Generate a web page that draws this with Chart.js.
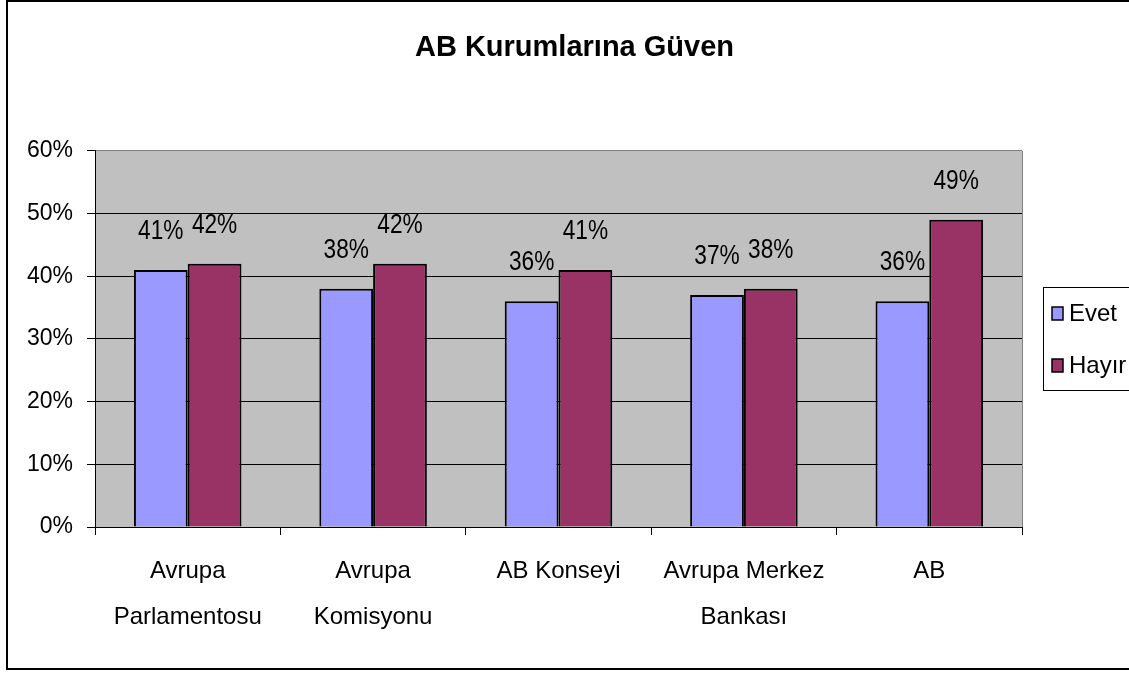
<!DOCTYPE html>
<html>
<head>
<meta charset="utf-8">
<script src="https://cdn.jsdelivr.net/npm/chart.js@4"></script>
<style>
  html, body { margin: 0; padding: 0; background: #fff; }
  #wrap { width: 1129px; height: 673px; }
</style>
</head>
<body>
<div id="wrap"><canvas id="graph" width="1129" height="673"></canvas></div>
<script>
// data
let categories = [['Avrupa', 'Parlamentosu'], ['Avrupa', 'Komisyonu'], 'AB Konseyi', ['Avrupa Merkez', 'Bankası'], 'AB']
let evet = [41, 38, 36, 37, 36]
let hayir = [42, 42, 41, 38, 49]
let seriesNames = ['Evet', 'Hayır']
let seriesColors = ['#9999FF', '#993366']
let yTicks = [0, 10, 20, 30, 40, 50, 60]

// gray plot area + outer frame + legend
const frame = {
  id: 'frame',
  beforeDraw(chart) {
    let c = chart.ctx, a = chart.chartArea
    c.save()
    c.fillStyle = '#C0C0C0'
    c.fillRect(a.left, a.top, a.right - a.left, a.bottom - a.top)
    c.restore()
  },
  afterDraw(chart) {
    let c = chart.ctx, a = chart.chartArea
    c.save()
    // right edge of plot area
    c.strokeStyle = '#808080'
    c.lineWidth = 1
    c.beginPath()
    c.moveTo(a.right + 0.5, a.top)
    c.lineTo(a.right + 0.5, a.bottom)
    c.stroke()
    // outer border (right side runs off the picture)
    c.strokeStyle = '#000'
    c.lineWidth = 2
    c.strokeRect(7, 1, 1200, 668)
    // legend
    c.fillStyle = '#fff'
    c.fillRect(1043, 287, 200, 103)
    c.lineWidth = 1
    c.strokeRect(1043.5, 287.5, 200, 103)
    c.font = '24px "Liberation Sans", Arial, sans-serif'
    c.textBaseline = 'middle'
    seriesNames.forEach((name, i) => {
      let y = 313 + i * 52
      c.fillStyle = seriesColors[i]
      c.fillRect(1052, y - 6, 11, 13)
      c.strokeStyle = '#000'
      c.lineWidth = 1.5
      c.strokeRect(1052, y - 6, 11, 13)
      c.fillStyle = '#000'
      c.fillText(name, 1069, y + 1)
    })
    c.restore()
  }
}

// value labels above the bars (narrow, like the original)
const barLabels = {
  id: 'barLabels',
  afterDatasetsDraw(chart) {
    let c = chart.ctx
    chart.data.datasets.forEach((ds, i) => {
      chart.getDatasetMeta(i).data.forEach((bar, j) => {
        c.save()
        c.translate(bar.x, bar.y - 25)
        c.scale(0.84, 1)
        c.font = '27px "Liberation Sans", Arial, sans-serif'
        c.fillStyle = '#000'
        c.textAlign = 'center'
        c.textBaseline = 'bottom'
        c.fillText(ds.data[j] + '%', 0, 0)
        c.restore()
      })
    })
  }
}

let ctx = document.getElementById('graph').getContext('2d')
new Chart(ctx, {
  type: 'bar',
  data: {
    labels: categories,
    datasets: [{
      label: seriesNames[0],
      data: evet,
      backgroundColor: seriesColors[0],
      borderColor: '#000',
      borderWidth: 2
    },
    {
      label: seriesNames[1],
      data: hayir,
      backgroundColor: seriesColors[1],
      borderColor: '#000',
      borderWidth: 2
    }]
  },
  options: {
    responsive: false,
    animation: false,
    layout: { padding: { left: 20, right: 0, top: 0, bottom: 0 } },
    datasets: { bar: { categoryPercentage: 0.58, barPercentage: 1 } },
    plugins: {
      legend: { display: false },
      tooltip: { enabled: false },
      title: {
        display: true,
        text: 'AB Kurumlarına Güven',
        color: '#000',
        font: { family: '"Liberation Sans", Arial, sans-serif', size: 29, weight: 'bold' },
        padding: { top: 31, bottom: 85 }
      }
    },
    scales: {
      x: {
        grid: { drawOnChartArea: false, drawTicks: true, tickLength: 8, color: '#000', offset: true },
        border: { color: '#000', width: 1 },
        ticks: {
          color: '#000',
          padding: 14,
          font: { family: '"Liberation Sans", Arial, sans-serif', size: 24, lineHeight: 1.9 }
        },
        afterFit(scale) { scale.height = 146 }
      },
      y: {
        min: 0,
        max: 60,
        afterBuildTicks(scale) { scale.ticks = yTicks.map(v => ({ value: v })) },
        grid: {
          color: (c) => c.tick && c.tick.value == 60 ? '#808080' : '#000',
          tickColor: '#000',
          tickLength: 8,
          lineWidth: 1
        },
        border: { color: '#000', width: 1 },
        ticks: {
          color: '#000',
          padding: 14,
          callback: (v) => v + '%',
          font: { family: '"Liberation Sans", Arial, sans-serif', size: 23 }
        },
        afterFit(scale) { scale.width = 75 }
      },
      // empty right-hand axis that keeps room for the legend
      yRight: {
        position: 'right',
        min: 0,
        max: 60,
        grid: { display: false },
        border: { display: false },
        ticks: { display: false },
        afterFit(scale) { scale.width = 107 }
      }
    }
  },
  plugins: [frame, barLabels]
})
</script>
</body>
</html>
